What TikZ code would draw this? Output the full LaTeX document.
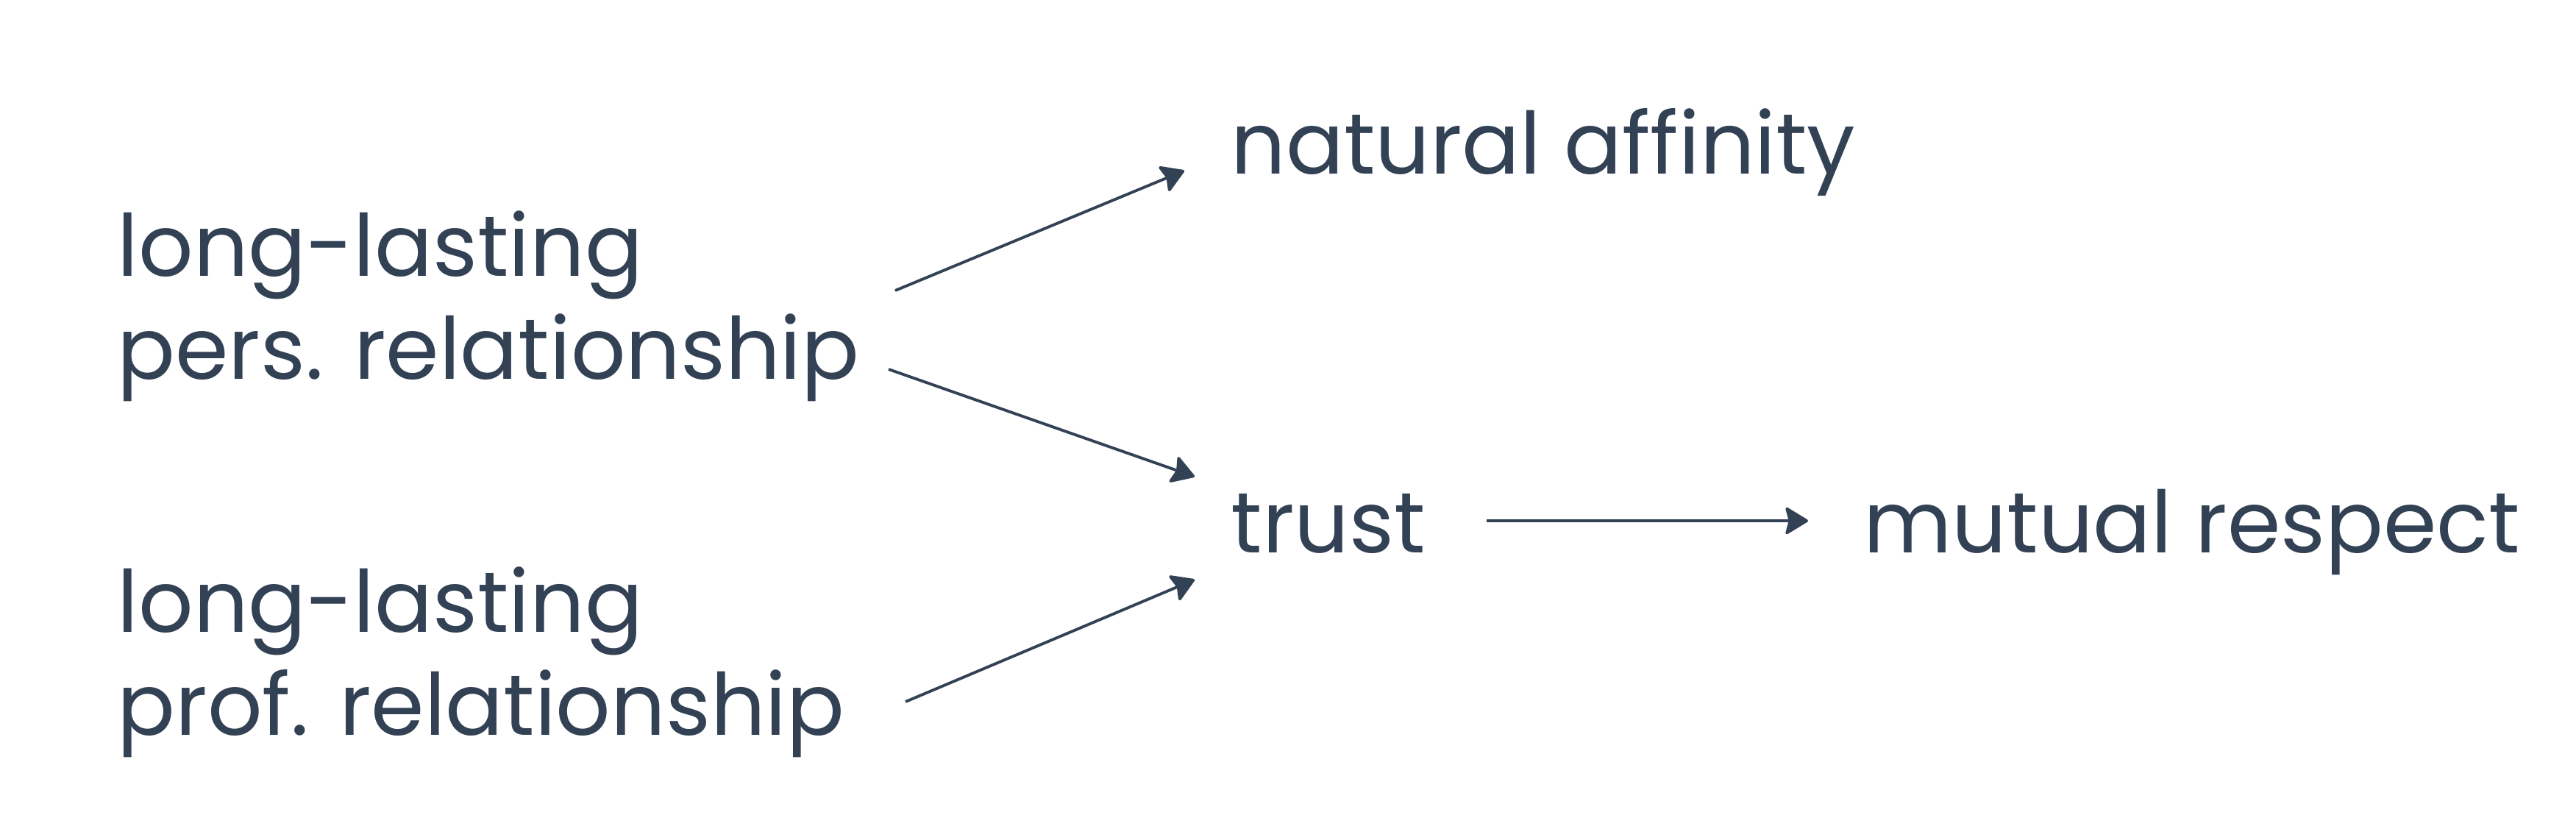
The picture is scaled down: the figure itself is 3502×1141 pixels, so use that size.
\documentclass[tikz,border=0pt]{standalone}
\usepackage{fontspec}
\setmainfont{Poppins}
\usetikzlibrary{arrows.meta}
\definecolor{slate}{HTML}{334155}

\begin{document}
\begin{tikzpicture}[x=0.1mm,y=-0.1mm,
    lbl/.style={anchor=base west,inner sep=0pt,align=left,text=slate,
      font=\fontsize{33.2}{39.8}\selectfont},
    arr/.style={draw=slate,line width=1.1pt,
      -{Stealth[length=9.5pt,width=11.5pt,inset=1.5pt,round]}}]
	\useasboundingbox (0,0) rectangle (3502,1141);
	\node[lbl] (pers) at (159,515) {long-lasting\\pers. relationship};
	\node[lbl] (prof) at (159,999) {long-lasting\\prof. relationship};
	\node[lbl] (affinity) at (1673,236) {natural affinity};
	\node[lbl] (trust) at (1673,751) {trust};
	\node[lbl] (respect) at (2533,751) {mutual respect};
	% arrow ends
	\coordinate (pers1) at (1217,395);
	\coordinate (pers2) at (1208,502);
	\coordinate (prof1) at (1231,954);
	\coordinate (aff-in) at (1610,232);
	\coordinate (trust-a) at (1624,648);
	\coordinate (trust-b) at (1624,788);
	\coordinate (trust-out) at (2021,708);
	\coordinate (resp-in) at (2458,708);
	\draw[arr] (pers1) -- (aff-in);
	\draw[arr] (pers2) -- (trust-a);
	\draw[arr] (prof1) -- (trust-b);
	\draw[arr] (trust-out) -- (resp-in);
\end{tikzpicture}
\end{document}
